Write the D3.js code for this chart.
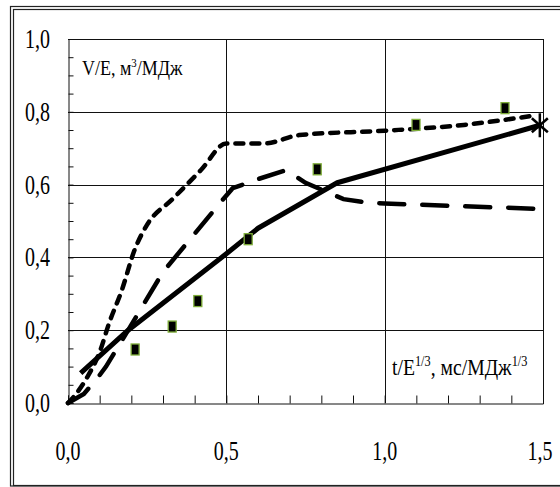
<!DOCTYPE html>
<html>
<head>
<meta charset="utf-8">
<script src="https://cdn.jsdelivr.net/npm/d3@7"></script>
<style>
  body { margin: 0; background: #fff; }
  svg { display: block; }
  text { font-family: "Liberation Serif", "Times New Roman", "DejaVu Serif", serif; fill: #000; }
</style>
</head>
<body>
<svg id="chart" width="560" height="487"></svg>
<script>
// y ticks / x ticks
const yTicks = [0, 0.2, 0.4, 0.6, 0.8, 1.0];
const xTicks = [0, 0.5, 1.0, 1.5];

// short-dashed curve
const shortDashX = [0, 0.03, 0.06, 0.1, 0.13, 0.17, 0.21, 0.25, 0.33, 0.42, 0.5, 0.62, 0.73, 1.0, 1.25, 1.46];
const shortDashY = [0, 0.03, 0.07, 0.14, 0.22, 0.31, 0.42, 0.49, 0.56, 0.64, 0.713, 0.713, 0.736, 0.748, 0.764, 0.788];

// long-dashed curve
const longDashX = [0, 0.05, 0.09, 0.12, 0.19, 0.3, 0.4, 0.49, 0.52, 0.6, 0.69, 0.75, 0.87, 0.95, 1.0, 1.5];
const longDashY = [0, 0.025, 0.065, 0.1, 0.2, 0.36, 0.465, 0.56, 0.59, 0.615, 0.64, 0.605, 0.56, 0.55, 0.548, 0.533];

// solid curve
const solidX = [0.04, 0.19, 0.5, 0.6, 0.85, 1.49];
const solidY = [0.082, 0.2, 0.41, 0.48, 0.605, 0.763];

// measured points (squares)
const pointsX = [0.212, 0.329, 0.41, 0.569, 0.787, 1.099, 1.38];
const pointsY = [0.147, 0.21, 0.28, 0.45, 0.642, 0.764, 0.81];

const svg = d3.select("#chart");

// outer double frame
svg.append("rect").attr("x", 10.5).attr("y", 6.5).attr("width", 600).attr("height", 479.5)
    .attr("fill", "none").attr("stroke", "#222").attr("stroke-width", 1.2);
svg.append("rect").attr("x", 13.5).attr("y", 9.5).attr("width", 600).attr("height", 476)
    .attr("fill", "none").attr("stroke", "#222").attr("stroke-width", 1.2);

const x = d3.scaleLinear().domain([0, 1.5]).range([68, 543]);
const y = d3.scaleLinear().domain([0, 1]).range([403, 39]);

const fmt = v => d3.format(".1f")(v).replace(".", ",");

// grid lines
svg.append("g").selectAll("line").data(yTicks.slice(1))
    .join("line")
    .attr("x1", x(0)).attr("x2", x(1.5))
    .attr("y1", d => Math.round(y(d)) + 0.5).attr("y2", d => Math.round(y(d)) + 0.5)
    .attr("stroke", "#111").attr("stroke-width", 1);
svg.append("g").selectAll("line").data(xTicks.slice(1))
    .join("line")
    .attr("x1", d => Math.round(x(d)) + 0.5).attr("x2", d => Math.round(x(d)) + 0.5)
    .attr("y1", y(0)).attr("y2", y(1))
    .attr("stroke", "#111").attr("stroke-width", 1);

// minor ticks, inward
const yAxis = svg.append("g").attr("transform", `translate(${x(0) + 0.5},0)`)
    .call(d3.axisLeft(y).tickValues(d3.range(0, 1.0001, 0.05)).tickSize(-5).tickFormat(""));
const xAxis = svg.append("g").attr("transform", `translate(0,${Math.round(y(0)) + 0.5})`)
    .call(d3.axisBottom(x).tickValues(d3.range(0, 1.5001, 0.1)).tickSize(-8).tickFormat(""));
[yAxis, xAxis].forEach(g => {
    g.selectAll("line").attr("stroke", "#111");
    g.select(".domain").attr("stroke", "#111");
});

// tick labels (narrow serif, as in the source figure)
svg.append("g").selectAll("text").data(yTicks)
    .join("text")
    .attr("transform", d => `translate(50,${y(d) + 9}) scale(0.74,1)`)
    .attr("text-anchor", "end")
    .attr("font-size", 27)
    .text(fmt);
svg.append("g").selectAll("text").data(xTicks)
    .join("text")
    .attr("transform", d => `translate(${x(d) - (d === 1.5 ? 3 : 0)},460) scale(0.74,1)`)
    .attr("text-anchor", "middle")
    .attr("font-size", 27)
    .text(fmt);

// axis titles
const yt = svg.append("text").attr("transform", "translate(82,75) scale(0.9,1)").attr("font-size", 20);
yt.append("tspan").text("V/E, м");
yt.append("tspan").attr("font-size", 12).attr("dy", -8).text("3");
yt.append("tspan").attr("dy", 8).text("/МДж");

const xt = svg.append("text").attr("transform", "translate(392,375) scale(0.82,1)").attr("font-size", 24);
xt.append("tspan").text("t/E");
xt.append("tspan").attr("font-size", 15).attr("dy", -9).text("1/3");
xt.append("tspan").attr("dy", 9).text(", мс/МДж");
xt.append("tspan").attr("font-size", 15).attr("dy", -9).text("1/3");

// curves
const line = d3.line().x(d => x(d[0])).y(d => y(d[1]));
const smooth = d3.line().x(d => x(d[0])).y(d => y(d[1])).curve(d3.curveMonotoneX);
const zip = (a, b) => a.map((v, i) => [v, b[i]]);

svg.append("path").datum(zip(longDashX, longDashY))
    .attr("d", line).attr("fill", "none").attr("stroke", "#000")
    .attr("stroke-width", 4.5).attr("stroke-linecap", "round")
    .attr("stroke-dasharray", "25,18");

svg.append("path").datum(zip(shortDashX, shortDashY))
    .attr("d", smooth).attr("fill", "none").attr("stroke", "#000")
    .attr("stroke-width", 4.5).attr("stroke-linecap", "round")
    .attr("stroke-dasharray", "8,8");

svg.append("path").datum(zip(solidX, solidY))
    .attr("d", line).attr("fill", "none").attr("stroke", "#000")
    .attr("stroke-width", 5).attr("stroke-linejoin", "round");

// asterisk at end of solid curve
const last = solidX.length - 1;
const ax = x(solidX[last]), ay = y(solidY[last]);
const star = svg.append("g").attr("transform", `translate(${ax},${ay})`);
[[0, -12, 0, 12], [-8, -7, 8, 7], [-8, 7, 8, -7]].forEach(s => {
    star.append("line").attr("x1", s[0]).attr("y1", s[1]).attr("x2", s[2]).attr("y2", s[3])
        .attr("stroke", "#000").attr("stroke-width", 2.5);
});

// square markers
svg.append("g").selectAll("rect").data(zip(pointsX, pointsY))
    .join("rect")
    .attr("x", d => x(d[0]) - 4).attr("y", d => y(d[1]) - 5.5)
    .attr("width", 8).attr("height", 11)
    .attr("fill", "#000").attr("stroke", "#7fae3a").attr("stroke-width", 1.3);
</script>
</body>
</html>
